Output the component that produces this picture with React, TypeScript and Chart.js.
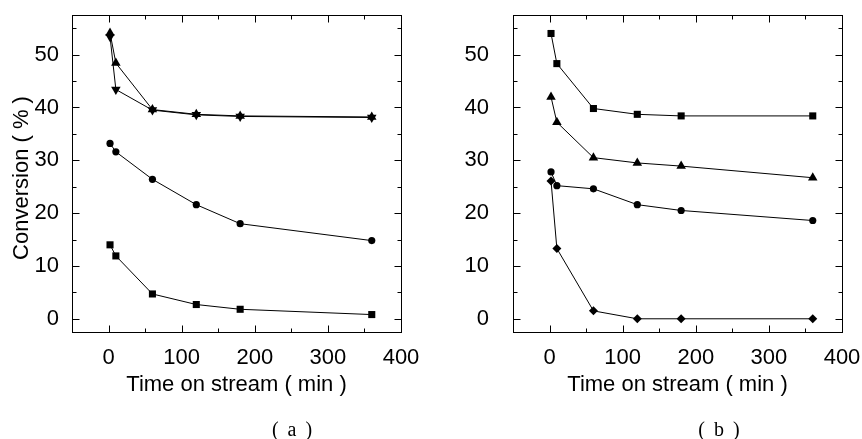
import React, { useEffect, useRef } from "react";
import { Chart, registerables } from "chart.js";
Chart.register(...registerables);

// Time on stream (min)
const timeMin = [2, 10, 60, 120, 180, 360];

// Panel (a)
const aSquare = [14.0, 11.9, 4.7, 2.7, 1.8, 0.8];
const aCircle = [33.2, 31.6, 26.4, 21.6, 18.0, 14.8];
const aUpTriangle = [54.1, 48.4, 39.6, 38.7, 38.4, 38.2];
const aDownTriangle = [53.4, 43.4, 39.5, 38.6, 38.3, 38.1];

// Panel (b)
const bSquare = [54.0, 48.3, 39.8, 38.7, 38.4, 38.4];
const bTriangle = [42.0, 37.2, 30.5, 29.5, 28.9, 26.7];
const bCircle = [27.8, 25.2, 24.6, 21.6, 20.5, 18.6];
const bDiamond = [26.1, 13.3, 1.5, 0, 0, 0];

// Axis ticks
const xTicks = [0, 100, 200, 300, 400];
const xMinorTicks = [-50, 50, 150, 250, 350];
const yTicks = [0, 10, 20, 30, 40, 50];
const yMinorTicks = [5, 15, 25, 35, 45, 55];

const FONT = "'Liberation Sans', Arial, sans-serif";

const framePlugin = {
  id: "frame",
  afterDatasetsDraw(chart: any) {
    const { ctx, chartArea: a, scales } = chart;
    const x = scales.x;
    const y = scales.y;
    ctx.save();
    ctx.strokeStyle = "#000";
    ctx.lineWidth = 1;
    const L = Math.round(a.left) + 0.5;
    const R = Math.round(a.right) + 0.5;
    const T = Math.round(a.top) + 0.5;
    const B = Math.round(a.bottom) + 0.5;
    ctx.strokeRect(L, T, R - L, B - T);
    ctx.beginPath();
    const xt = (v: number, len: number) => {
      const p = Math.round(x.getPixelForValue(v)) + 0.5;
      ctx.moveTo(p, B);
      ctx.lineTo(p, B - len);
      ctx.moveTo(p, T);
      ctx.lineTo(p, T + len);
    };
    const yt = (v: number, len: number) => {
      const p = Math.round(y.getPixelForValue(v)) + 0.5;
      ctx.moveTo(L, p);
      ctx.lineTo(L + len, p);
      ctx.moveTo(R, p);
      ctx.lineTo(R - len, p);
    };
    xTicks.forEach((v) => xt(v, 7));
    xMinorTicks.forEach((v) => xt(v, 4));
    yTicks.forEach((v) => yt(v, 7));
    yMinorTicks.forEach((v) => yt(v, 4));
    ctx.stroke();

    const title = chart.options.plugins.frame && chart.options.plugins.frame.yTitle;
    if (title) {
      ctx.translate(22, (a.top + a.bottom) / 2 + 4.5);
      ctx.rotate(-Math.PI / 2);
      ctx.font = "22px " + FONT;
      ctx.fillStyle = "#000";
      ctx.textAlign = "center";
      ctx.textBaseline = "middle";
      ctx.fillText(title, 0, 0);
    }
    ctx.restore();
  },
};

type Series = { values: number[]; style: string; radius: number; rotation?: number };

function makeConfig(series: Series[], o: { yWidth: number; padRight: number; yLabelPad: number; yTitle: string | null }) {
  return {
    type: "scatter" as const,
    data: {
      datasets: series.map((s) => ({
        data: timeMin.map((t, i) => ({ x: t, y: s.values[i] })),
        showLine: true,
        borderColor: "#000",
        borderWidth: 1,
        backgroundColor: "#000",
        pointBackgroundColor: "#000",
        pointBorderColor: "#000",
        pointBorderWidth: 0,
        pointStyle: s.style,
        pointRadius: s.radius,
        pointRotation: s.rotation || 0,
        tension: 0,
      })),
    },
    options: {
      animation: false,
      responsive: false,
      layout: { padding: { top: 15, right: o.padRight, left: 0, bottom: 0 } },
      plugins: {
        legend: { display: false },
        tooltip: { enabled: false },
        frame: { yTitle: o.yTitle },
      },
      scales: {
        x: {
          type: "linear",
          position: "bottom",
          min: -50,
          max: 400,
          grid: { display: false },
          border: { display: false },
          ticks: { font: { family: FONT, size: 22 }, color: "#000", padding: 5, maxRotation: 0, autoSkip: false },
          title: {
            display: true,
            text: "Time on stream ( min )",
            font: { family: FONT, size: 22 },
            color: "#000",
            padding: { top: 0, bottom: 41 },
          },
          afterBuildTicks: (s: any) => {
            s.ticks = xTicks.map((v) => ({ value: v }));
          },
          afterFit: (s: any) => {
            s.height = 107;
            s.paddingLeft = 0;
            s.paddingRight = 0;
          },
        },
        y: {
          type: "linear",
          position: "left",
          min: -2.5,
          max: 57.5,
          grid: { display: false },
          border: { display: false },
          ticks: { font: { family: FONT, size: 22 }, color: "#000", padding: o.yLabelPad, autoSkip: false },
          title: { display: false },
          afterBuildTicks: (s: any) => {
            s.ticks = yTicks.map((v) => ({ value: v }));
          },
          afterFit: (s: any) => {
            s.width = o.yWidth;
            s.paddingTop = 0;
            s.paddingBottom = 0;
          },
        },
      },
    },
    plugins: [framePlugin],
  };
}

function Panel({ config, label, labelX }: { config: any; label: string; labelX: number }) {
  const ref = useRef<HTMLCanvasElement>(null);
  useEffect(() => {
    const chart = new Chart(ref.current as HTMLCanvasElement, config);
    return () => chart.destroy();
  }, [config]);
  return (
    <div style={{ position: "relative", width: 431, height: 439 }}>
      <canvas ref={ref} width={431} height={439} style={{ display: "block" }} />
      <div
        style={{
          position: "absolute",
          left: labelX - 40,
          width: 80,
          top: 418,
          textAlign: "center",
          fontFamily: "'Liberation Serif', 'Times New Roman', serif",
          fontSize: 20,
          lineHeight: "22px",
          wordSpacing: 4,
          whiteSpace: "pre",
          color: "#000",
        }}
      >
        {label}
      </div>
    </div>
  );
}

const configA = makeConfig(
  [
    { values: aSquare, style: "rect", radius: 5 },
    { values: aCircle, style: "circle", radius: 3.6 },
    { values: aUpTriangle, style: "triangle", radius: 5.5 },
    { values: aDownTriangle, style: "triangle", radius: 5.5, rotation: 180 },
  ],
  { yWidth: 72, padRight: 30, yLabelPad: 5, yTitle: "Conversion ( % )" }
);

const configB = makeConfig(
  [
    { values: bSquare, style: "rect", radius: 5 },
    { values: bTriangle, style: "triangle", radius: 5.5 },
    { values: bCircle, style: "circle", radius: 3.6 },
    { values: bDiamond, style: "rectRot", radius: 4.5 },
  ],
  { yWidth: 82, padRight: 20, yLabelPad: 16, yTitle: null }
);

export default function App() {
  return (
    <div style={{ position: "fixed", left: 0, top: 0, width: 862, height: 439, display: "flex", background: "#fff", overflow: "hidden" }}>
      <Panel config={configA} label="( a )" labelX={292} />
      <Panel config={configB} label="( b )" labelX={288} />
    </div>
  );
}
